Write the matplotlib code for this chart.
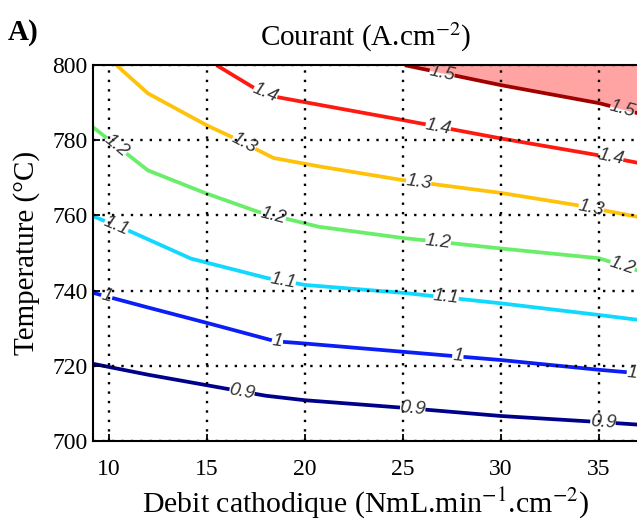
import matplotlib
matplotlib.use('Agg')
import matplotlib.pyplot as plt
import numpy as np
from matplotlib.contour import ContourSet

plt.rcParams['font.family'] = 'Liberation Serif'
plt.rcParams['mathtext.fontset'] = 'stix'

# niveaux de courant (A.cm-2) et lignes iso
levels = [0.9, 1.0, 1.1, 1.2, 1.3, 1.4, 1.5]
x_09 = [9.2, 12, 15, 18, 20, 25, 30, 35, 37]
t_09 = [720.5, 717.6, 714.8, 712, 710.8, 708.8, 706.6, 705, 704.3]
x_10 = [9.2, 12, 15, 18.5, 20, 25, 30, 35, 37]
t_10 = [739.4, 735.5, 731.4, 726.5, 725.9, 723.7, 721.5, 718.9, 718]
x_11 = [9.2, 11, 14.2, 18.1, 20, 25, 30, 35, 37]
t_11 = [759.8, 756, 748.5, 743.3, 741.5, 739.4, 736.6, 733.5, 732.2]
x_12 = [9.2, 12, 14.9, 17.6, 20.7, 25, 30, 35, 37]
t_12 = [783.5, 772, 766, 761, 757, 754, 751.2, 748.6, 745.3]
x_13 = [10.4, 12, 15, 16.4, 18.4, 20.8, 25, 30, 33.8, 37]
t_13 = [800, 792.5, 784, 780.6, 775.3, 773, 769.4, 766, 762.8, 759.6]
x_14 = [15.5, 17.4, 18.6, 20.8, 25, 30, 35, 37]
t_14 = [800, 794, 791.5, 789.4, 785.4, 780.5, 776, 774]
x_15 = [25.1, 30, 35, 37]
t_15 = [800, 794.7, 789.9, 787.2]

lines_x = [x_09, x_10, x_11, x_12, x_13, x_14, x_15]
lines_t = [t_09, t_10, t_11, t_12, t_13, t_14, t_15]
colors = ['#00008B', '#0A1EF5', '#10D8FF', '#6AEE6A', '#FFC20A', '#FF1A10', '#A00000']

# position des etiquettes (debit) pour chaque niveau
label_x = [[16.8, 25.5, 35.2], [9.9, 18.6, 27.8, 36.7], [10.4, 18.9, 27.2],
           [10.4, 18.4, 26.8, 36.2], [16.9, 25.8, 34.6], [18.0, 26.8, 35.6],
           [27.0, 36.2]]

fig = plt.figure(figsize=(6.37, 5.26), dpi=100)
ax = fig.add_axes([0.146, 0.162, 0.856, 0.714])

ax.fill_between(x_15, t_15, 800, color='#FFA3A3', lw=0, zorder=0)

allsegs = [[np.column_stack([lx, lt])] for lx, lt in zip(lines_x, lines_t)]
cs = ContourSet(ax, levels, allsegs, colors=colors, linewidths=2.7)

pos = []
for lx, lt, lab in zip(lines_x, lines_t, label_x):
    for xx in lab:
        pos.append((xx, np.interp(xx, lx, lt)))
texts = ax.clabel(cs, manual=pos, inline=True, inline_spacing=1,
                  fontsize=13.5, colors='#333333', fmt='%g')
for t in texts:
    t.set_family('Liberation Sans')
    t.set_style('italic')

ax.set_xlim(9.2, 37)
ax.set_ylim(700, 800)
ax.set_xticks([10, 15, 20, 25, 30, 35])
ax.set_yticks([700, 720, 740, 760, 780, 800])
ax.grid(True, color='k', linestyle=(0, (1, 3)), linewidth=1.7)
ax.set_axisbelow(False)
ax.spines['right'].set_visible(False)
for s in ['left', 'top', 'bottom']:
    ax.spines[s].set_linewidth(1.5)
ax.tick_params(direction='in', length=5, width=1.3, labelsize=17)
ax.tick_params(axis='x', pad=13)
ax.tick_params(axis='y', pad=4)

ax.set_xlabel('Debit cathodique (NmL.min$^{-1}$.cm$^{-2}$)', fontsize=21.5, labelpad=4)
ax.set_ylabel('Temperature (°C)', fontsize=21, labelpad=9)
ax.set_title('Courant (A.cm$^{-2}$)', fontsize=21, pad=14)
fig.text(0.012, 0.925, 'A)', fontsize=21, fontweight='bold', family='Liberation Serif')

fig.savefig('out.png', dpi=100)
